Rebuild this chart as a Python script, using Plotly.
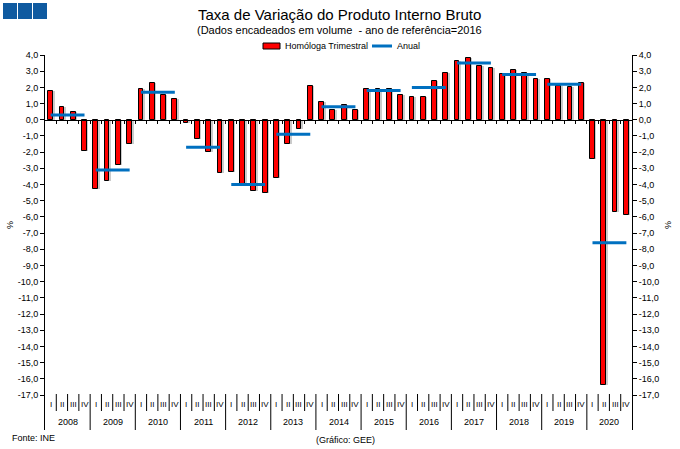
import plotly.graph_objects as go

# ---------------- data ----------------
years = [str(y) for y in range(2008, 2021)]
quarter_labels = ["I", "II", "III", "IV"]
homologa_trimestral = [
    1.8, 0.8, 0.5, -1.9,      # 2008
    -4.3, -3.8, -2.8, -1.5,   # 2009
    1.9, 2.3, 1.5, 1.3,       # 2010
    -0.2, -1.2, -2.0, -3.3,   # 2011
    -3.2, -4.0, -4.4, -4.5,   # 2012
    -3.6, -1.5, -0.6, 2.1,    # 2013
    1.1, 0.6, 0.9, 0.6,       # 2014
    1.9, 1.9, 1.9, 1.5,       # 2015
    1.4, 1.4, 2.4, 2.9,       # 2016
    3.6, 3.8, 3.3, 3.2,       # 2017
    2.8, 3.1, 2.9, 2.5,       # 2018
    2.5, 2.1, 2.0, 2.3,       # 2019
    -2.4, -16.4, -5.7, -5.9,  # 2020
]
anual = [0.3, -3.1, 1.7, -1.7, -4.0, -0.9, 0.8, 1.8, 2.0, 3.5, 2.8, 2.2, -7.6]
series_names = ["Homóloga Trimestral", "Anual"]
y_ticks = [float(v) for v in range(4, -18, -1)]
y_ticktext = [f"{v:.1f}".replace(".", ",") for v in y_ticks]

# ---------------- geometry ----------------
W, H = 680, 449
L, R, T, B = 45, 48, 55, 19
plot_h = H - T - B
px_per_unit = (395 - 55) / 21.0
ymax = 4.0
ymin = ymax - plot_h / px_per_unit
n = len(homologa_trimestral)
xq = list(range(n))

RED = "#FF0000"
BLUE = "#0070C0"


def py2paper(py):
    return (H - B - py) / plot_h


def px2paper(px):
    return (px - L) / (W - L - R)


FONT = "Liberation Sans, Arial, sans-serif"
BAR_W = 0.42

fig = go.Figure()

# shadow of bars
fig.add_trace(go.Bar(
    x=xq, y=homologa_trimestral, width=BAR_W, offset=-BAR_W / 2 + 0.14,
    marker=dict(color="rgba(160,160,160,0.55)", line=dict(width=0)),
    showlegend=False, hoverinfo="skip", yaxis="y",
))
# bars
fig.add_trace(go.Bar(
    x=xq, y=homologa_trimestral, width=BAR_W, offset=-BAR_W / 2,
    marker=dict(color=RED, line=dict(color="black", width=1)),
    name=series_names[0], yaxis="y", showlegend=False,
))
# annual segments
ax, ay = [], []
for i, v in enumerate(anual):
    ax += [4 * i, 4 * i + 3, None]
    ay += [v, v, None]
fig.add_trace(go.Scatter(
    x=ax, y=ay, mode="lines", line=dict(color=BLUE, width=3),
    name=series_names[1], yaxis="y2", connectgaps=False, showlegend=False,
))

zero_pos = (0 - ymin) / (ymax - ymin)

shapes = []
# separators in category band
for b in range(1, n):
    xb = b - 0.5
    y0p = 0.0 if b % 4 == 0 else py2paper(411)
    shapes.append(dict(type="line", xref="x", yref="paper", x0=xb, x1=xb,
                       y0=y0p, y1=py2paper(394), line=dict(color="black", width=1)))
# logo squares
for k in range(3):
    x0 = 3 + k * 15
    shapes.append(dict(type="rect", xref="paper", yref="paper",
                       x0=px2paper(x0), x1=px2paper(x0 + 14),
                       y0=py2paper(19), y1=py2paper(3),
                       fillcolor="#0F5AA0", line=dict(width=0), layer="above"))
# manual legend symbols
shapes.append(dict(type="rect", xref="paper", yref="paper",
                   x0=px2paper(263), x1=px2paper(280),
                   y0=py2paper(49), y1=py2paper(43),
                   fillcolor=RED, line=dict(color="black", width=1)))
shapes.append(dict(type="line", xref="paper", yref="paper",
                   x0=px2paper(372), x1=px2paper(392),
                   y0=py2paper(46), y1=py2paper(46),
                   line=dict(color=BLUE, width=3)))


def ann(x, y, text, size, xanchor="center", angle=0, xref="paper"):
    return dict(x=x, y=y, xref=xref, yref="paper", text=text, showarrow=False,
                xanchor=xanchor, yanchor="middle", textangle=angle,
                font=dict(size=size, color="black", family=FONT))


annotations = []
for i in range(n):
    annotations.append(ann(i, py2paper(404), quarter_labels[i % 4], 8, xref="x"))
for j, yr in enumerate(years):
    annotations.append(ann(4 * j + 1.5, py2paper(422), yr, 9, xref="x"))
annotations += [
    ann(px2paper(340), py2paper(14), "Taxa de Variação do Produto Interno Bruto", 15),
    ann(px2paper(340), py2paper(30), "(Dados encadeados em volume  - ano de referência=2016", 11),
    ann(px2paper(283), py2paper(46), series_names[0], 9, xanchor="left"),
    ann(px2paper(395), py2paper(46), series_names[1], 9, xanchor="left"),
    ann(px2paper(10), py2paper(225), "%", 9, angle=90),
    ann(px2paper(668), py2paper(225), "%", 9, angle=90),
    ann(px2paper(10), py2paper(438), "Fonte: INE", 9, xanchor="left"),
    ann(px2paper(345), py2paper(440), "(Gráfico: GEE)", 9),
]

yaxis_common = dict(
    range=[ymin, ymax], tickmode="array", tickvals=y_ticks, ticktext=y_ticktext,
    ticks="outside", ticklen=4, tickcolor="black", showline=True, linecolor="black",
    linewidth=1, showgrid=False, zeroline=False, automargin=False,
    tickfont=dict(size=9, color="black", family=FONT),
)

fig.update_layout(
    width=W, height=H,
    margin=dict(l=L, r=R, t=T, b=B, pad=0, autoexpand=False),
    paper_bgcolor="white", plot_bgcolor="white",
    barmode="overlay", bargap=0,
    font=dict(family=FONT, size=9, color="black"),
    xaxis=dict(range=[-0.5, n - 0.5], anchor="free", position=zero_pos,
               showline=True, linecolor="black", linewidth=1,
               tickmode="array", tickvals=[b - 0.5 for b in range(1, n)],
               ticks="outside", ticklen=3, tickcolor="black", automargin=False,
               showticklabels=False, showgrid=False, zeroline=False),
    yaxis=dict(side="left", **yaxis_common),
    yaxis2=dict(side="right", overlaying="y", **yaxis_common),
    shapes=shapes, annotations=annotations,
    showlegend=False,
)

fig.write_html("out.html", config={"displayModeBar": False},
               post_script="document.body.style.margin='0';document.body.style.padding='0';")
